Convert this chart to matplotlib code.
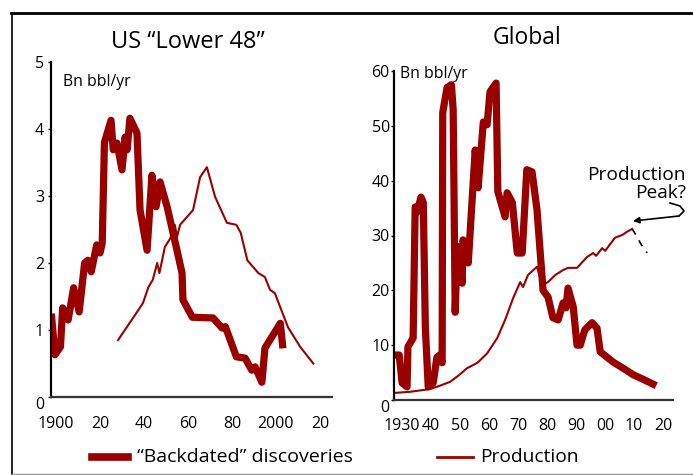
import numpy as np
import matplotlib
matplotlib.use("Agg")
import matplotlib.pyplot as plt
from matplotlib.lines import Line2D

plt.rcParams["font.family"] = ["Open Sans", "DejaVu Sans"]

RED = "#990000"

# ── US "Lower 48" ─────────────────────────────────────────
us_disc_year = [1898, 1899.5, 1902, 1903, 1905.5, 1908, 1910.5, 1913, 1914.5, 1916,
                1918.5, 1920, 1921, 1922, 1925, 1926, 1927.7, 1930, 1931.4, 1932.3,
                1933.6, 1936.8, 1938.2, 1941.4, 1943.6, 1945.5, 1947.3, 1950.5, 1955,
                1957.3, 1957.7, 1962, 1971.4, 1975.5, 1977, 1982, 1986, 1989, 1990.5,
                1993.6, 1995, 2002, 2003]
us_disc_val = [1.19, 0.63, 0.75, 1.33, 1.15, 1.63, 1.27, 2.0, 2.04, 1.87,
               2.27, 2.15, 2.3, 3.8, 4.13, 3.69, 3.79, 3.39, 3.88, 3.69,
               4.16, 3.94, 2.79, 2.19, 3.31, 2.84, 3.21, 2.84, 2.19,
               1.85, 1.45, 1.19, 1.18, 1.03, 1.05, 0.6, 0.58, 0.4, 0.45,
               0.22, 0.73, 1.1, 0.78]

us_prod_year = [1928.2, 1935, 1939.5, 1942, 1944, 1946, 1947, 1949.5, 1952, 1954,
                1955, 1956.4, 1962.3, 1965.5, 1968.6, 1972.3, 1977.7, 1982, 1984,
                1987, 1992, 1995, 1997.3, 1999.5, 2005.5, 2011, 2017]
us_prod_val = [0.85, 1.18, 1.4, 1.64, 1.75, 2.0, 1.85, 2.24, 2.37, 2.57,
               2.39, 2.57, 2.79, 3.28, 3.43, 2.99, 2.6, 2.57, 2.45,
               2.04, 1.85, 1.79, 1.6, 1.55, 1.04, 0.75, 0.5]

# ── Global ────────────────────────────────────────────────
gl_disc_year = [1928, 1929, 1930, 1931.7, 1932, 1933.8, 1934.5, 1935.2, 1936.5, 1937.3,
                1938, 1939, 1940.7, 1942, 1943, 1943.8, 1944, 1945.5, 1947, 1947.6,
                1948.3, 1949, 1950.7, 1951, 1952.8, 1955.2, 1956.2, 1958, 1959.3,
                1960.3, 1962.4, 1963, 1965.5, 1966.2, 1968, 1969.7, 1971.4, 1973,
                1974.8, 1976.5, 1978.6, 1980.3, 1982, 1983.8, 1985.5, 1986.5, 1987.2,
                1989, 1990.3, 1991.4, 1993, 1995.5, 1997.2, 1998.3, 2002.8, 2006.2,
                2009.7, 2013, 2016.5]
gl_disc_val = [8.2, 8.2, 3.1, 2.4, 9.7, 11.3, 35.2, 34.3, 37.0, 36.0,
               13.3, 2.4, 3.1, 7.8, 8.2, 6.8, 52.4, 57.0, 57.5, 53.0,
               16.0, 28.0, 21.3, 29.2, 25.0, 45.6, 38.7, 50.7, 50.2,
               56.2, 57.8, 38.0, 33.4, 37.8, 36.0, 26.8, 26.8, 42.0,
               41.6, 34.7, 20.0, 18.8, 15.0, 14.6, 17.7, 16.8, 20.4,
               17.0, 10.0, 10.0, 12.8, 14.1, 13.1, 8.8, 6.9, 5.8,
               4.6, 3.8, 2.9]

gl_prod_year = [1927.6, 1932.8, 1939.7, 1943, 1946.5, 1949.3, 1952.4, 1956, 1959.3,
                1962.8, 1965.5, 1968.3, 1970.7, 1971.7, 1973.4, 1976.5, 1978.3,
                1980.3, 1982.8, 1985.5, 1987.2, 1990.3, 1993.8, 1995.9, 1996.9,
                1999, 2000, 2003.4, 2005.9, 2007.6, 2009.3]
gl_prod_val = [1.3, 1.5, 2.0, 2.6, 3.3, 4.4, 5.8, 6.8, 8.5,
               11.3, 14.6, 18.6, 21.5, 20.6, 22.8, 24.3, 21.0,
               21.5, 22.8, 23.7, 24.1, 24.1, 26.1, 26.8, 26.3,
               27.7, 27.2, 29.6, 30.1, 30.7, 31.2]

peak_year = [2009.3, 2010.5, 2012.5, 2014.5]
peak_val = [31.2, 30.2, 28.3, 26.8]

W, H = 693, 475
fig = plt.figure(figsize=(W / 100, H / 100), dpi=100)


def fx(px):
    return px / W


def fy(py):
    return 1 - py / H


def style_axes(ax):
    for s in ["top", "right"]:
        ax.spines[s].set_visible(False)
    ax.spines["left"].set_linewidth(1.6)
    ax.spines["left"].set_color("black")
    ax.spines["bottom"].set_linewidth(1.6)
    ax.spines["bottom"].set_color("#333333")
    ax.tick_params(axis="y", length=2, width=1, pad=3, labelsize=11.5)
    ax.tick_params(axis="x", length=0, pad=14, labelsize=11.5)
    ax.set_facecolor("none")


# left panel
ax1 = fig.add_axes([fx(51), fy(397), fx(332 - 51), (397 - 62) / H])
ax1.plot(us_prod_year, us_prod_val, color=RED, lw=1.5)
ax1.plot(us_disc_year, us_disc_val, color=RED, lw=5.2, solid_joinstyle="round")
ax1.set_xlim(1897.7, 2025.5)
ax1.set_ylim(0, 5)
ax1.set_yticks([0, 1, 2, 3, 4, 5])
ax1.set_xticks([1900, 1920, 1940, 1960, 1980, 2000, 2020])
ax1.set_xticklabels(["1900", "20", "40", "60", "80", "2000", "20"])
style_axes(ax1)
ax1.get_yticklabels()[0].set_va("top")

# right panel
ax2 = fig.add_axes([fx(394), fy(400), fx(673 - 394), (400 - 71) / H])
ax2.plot(gl_prod_year, gl_prod_val, color=RED, lw=1.5)
ax2.plot(gl_disc_year, gl_disc_val, color=RED, lw=5.2, solid_joinstyle="round")
ax2.plot(peak_year, peak_val, color="black", lw=1.2, ls=(0, (4, 4)))
ax2.set_xlim(1927.2, 2023.4)
ax2.set_ylim(0, 60)
ax2.set_yticks([0, 10, 20, 30, 40, 50, 60])
ax2.set_xticks([1930, 1940, 1950, 1960, 1970, 1980, 1990, 2000, 2010, 2020])
ax2.set_xticklabels(["1930", "40", "50", "60", "70", "80", "90", "00", "10", "20"])
style_axes(ax2)
ax2.tick_params(axis="y", pad=1)
ax2.tick_params(axis="x", pad=13)
ax2.get_yticklabels()[0].set_va("top")

# titles and units
fig.text(fx(188), fy(42), "US \u201cLower 48\u201d", ha="center", va="center", fontsize=17)
fig.text(fx(527), fy(38), "Global", ha="center", va="center", fontsize=16.5)
fig.text(fx(63), fy(82), "Bn bbl/yr", ha="left", va="center", fontsize=11.3)
fig.text(fx(400), fy(74), "Bn bbl/yr", ha="left", va="center", fontsize=11.3)

# annotation
fig.text(fx(686), fy(184), "Production\nPeak?", ha="right", va="center",
         fontsize=13.8, linespacing=0.95)
fig.add_artist(Line2D([fx(670), fx(680), fx(684), fx(679)],
                      [fy(203), fy(206), fy(211), fy(216)], color="black", lw=1.2))
fig.add_artist(plt.Annotation("", xy=(fx(633), fy(221)), xytext=(fx(679), fy(216)),
                              xycoords="figure fraction", textcoords="figure fraction",
                              arrowprops=dict(arrowstyle="-|>", color="black", lw=1.2,
                                              mutation_scale=9, shrinkA=0, shrinkB=0)))

# legend
fig.add_artist(Line2D([fx(92), fx(128)], [fy(457), fy(457)], color=RED, lw=5.5))
fig.text(fx(137), fy(457), "\u201cBackdated\u201d discoveries", ha="left", va="center", fontsize=14)
fig.add_artist(Line2D([fx(437), fx(473)], [fy(457), fy(457)], color=RED, lw=2))
fig.text(fx(480), fy(457), "Production", ha="left", va="center", fontsize=13.8)

# frame
fig.add_artist(Line2D([fx(11), 1], [fy(13), fy(13)], color="black", lw=2))
fig.add_artist(Line2D([fx(12), fx(12)], [fy(13), fy(474)], color="black", lw=1.2))
fig.add_artist(Line2D([fx(12), 1], [fy(474), fy(474)], color="#999999", lw=1))

fig.savefig("out.png", dpi=100)
